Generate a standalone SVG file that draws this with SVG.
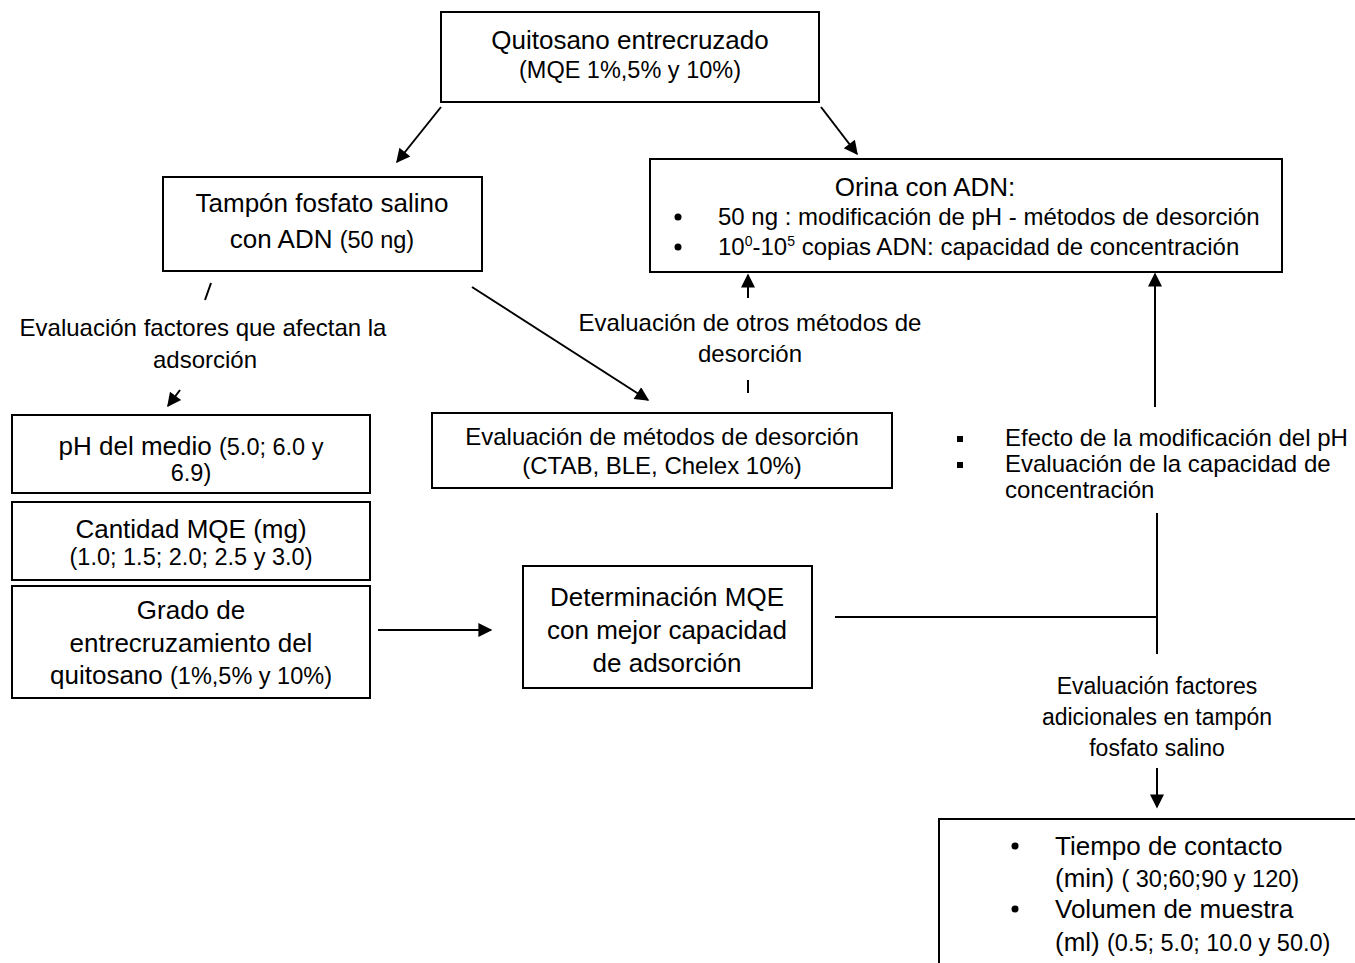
<svg xmlns="http://www.w3.org/2000/svg" width="1355" height="963" viewBox="0 0 1355 963">
<style>
text{font-family:"Liberation Sans",Arial,sans-serif;fill:#000}
.b{font-size:26px}
.s{font-size:23.5px}
.l{font-size:24px}
.a{font-size:23px}
.m{text-anchor:middle}
rect.n{fill:#fff;stroke:#000;stroke-width:2}
.c line,.c path{stroke:#000;stroke-width:2;fill:none}
</style>
<defs>
<marker id="ah2" viewBox="0 0 10 10" refX="9" refY="5" markerWidth="16" markerHeight="14" markerUnits="userSpaceOnUse" orient="auto">
<path d="M0,0 L10,5 L0,10 z" fill="#000"/>
</marker>
</defs>
<rect width="1355" height="963" fill="#fff"/>
<g class="c" id="connectors">
<line x1="441" y1="107" x2="397" y2="162" marker-end="url(#ah2)"/>
<line x1="821" y1="107" x2="857" y2="154" marker-end="url(#ah2)"/>
<line x1="211" y1="283" x2="205" y2="300"/>
<line x1="180" y1="390" x2="168" y2="406" marker-end="url(#ah2)"/>
<line x1="472" y1="287" x2="648" y2="400" marker-end="url(#ah2)"/>
<line x1="748" y1="380" x2="748" y2="393"/>
<line x1="748" y1="298" x2="748" y2="275" marker-end="url(#ah2)"/>
<line x1="378" y1="630" x2="491" y2="630" marker-end="url(#ah2)"/>
<line x1="835" y1="617" x2="1157" y2="617"/>
<line x1="1157" y1="513" x2="1157" y2="654"/>
<line x1="1155" y1="407" x2="1155" y2="274" marker-end="url(#ah2)"/>
<line x1="1157" y1="768" x2="1157" y2="807" marker-end="url(#ah2)"/>
</g>
<g id="n-quitosano">
<rect class="n" x="441" y="12" width="378" height="90"/>
<text class="b m" x="630" y="49">Quitosano entrecruzado</text>
<text class="s m" x="630" y="78">(MQE 1%,5% y 10%)</text>
</g>
<g id="n-tampon">
<rect class="n" x="163" y="177" width="319" height="94"/>
<text class="b m" x="322" y="212">Tampón fosfato salino</text>
<text class="m" x="322" y="248"><tspan class="b">con ADN </tspan><tspan class="s">(50 ng)</tspan></text>
</g>
<g id="n-orina">
<rect class="n" x="650" y="159" width="632" height="113"/>
<text class="b m" x="925" y="196">Orina con ADN:</text>
<circle cx="678" cy="217" r="3.5"/>
<text class="l" x="718" y="225">50 ng : modificación de pH - métodos de desorción</text>
<circle cx="678" cy="247" r="3.5"/>
<text class="l" x="718" y="255">10<tspan font-size="14" dy="-9">0</tspan><tspan dy="9">-10</tspan><tspan font-size="14" dy="-9">5</tspan><tspan dy="9"> copias ADN: capacidad de concentración</tspan></text>
</g>
<g id="lbl-factores">
<text class="l m" x="203" y="336">Evaluación factores que afectan la</text>
<text class="l m" x="205" y="368">adsorción</text>
</g>
<g id="lbl-otros">
<text class="l m" x="750" y="331">Evaluación de otros métodos de</text>
<text class="l m" x="750" y="362">desorción</text>
</g>
<g id="n-desorcion">
<rect class="n" x="432" y="413" width="460" height="75"/>
<text class="l m" x="662" y="445">Evaluación de métodos de desorción</text>
<text class="l m" x="662" y="474">(CTAB, BLE, Chelex 10%)</text>
</g>
<g id="n-ph">
<rect class="n" x="12" y="415" width="358" height="78"/>
<text class="m" x="191" y="455"><tspan class="b">pH del medio </tspan><tspan class="s">(5.0; 6.0 y</tspan></text>
<text class="s m" x="191" y="481">6.9)</text>
</g>
<g id="n-cantidad">
<rect class="n" x="12" y="502" width="358" height="78"/>
<text class="b m" x="191" y="538">Cantidad MQE (mg)</text>
<text class="s m" x="191" y="565">(1.0; 1.5; 2.0; 2.5 y 3.0)</text>
</g>
<g id="n-grado">
<rect class="n" x="12" y="586" width="358" height="112"/>
<text class="b m" x="191" y="619">Grado de</text>
<text class="b m" x="191" y="652">entrecruzamiento del</text>
<text class="m" x="191" y="684"><tspan class="b">quitosano </tspan><tspan class="s">(1%,5% y 10%)</tspan></text>
</g>
<g id="n-determinacion">
<rect class="n" x="523" y="566" width="289" height="122"/>
<text class="b m" x="667" y="606">Determinación MQE</text>
<text class="b m" x="667" y="639">con mejor capacidad</text>
<text class="b m" x="667" y="672">de adsorción</text>
</g>
<g id="lbl-efecto">
<rect x="957" y="436" width="6" height="6"/>
<text class="l" x="1005" y="446">Efecto de la modificación del pH</text>
<rect x="957" y="462" width="6" height="6"/>
<text class="l" x="1005" y="472">Evaluación de la capacidad de</text>
<text class="l" x="1005" y="498">concentración</text>
</g>
<g id="lbl-adicionales">
<text class="a m" x="1157" y="694">Evaluación factores</text>
<text class="a m" x="1157" y="725">adicionales en tampón</text>
<text class="a m" x="1157" y="756">fosfato salino</text>
</g>
<g id="n-tiempo">
<rect class="n" x="939" y="819" width="430" height="160"/>
<circle cx="1015" cy="846" r="3.5"/>
<text class="b" x="1055" y="855">Tiempo de contacto</text>
<text x="1055" y="887"><tspan class="b">(min) </tspan><tspan class="s">( 30;60;90 y 120)</tspan></text>
<circle cx="1015" cy="909" r="3.5"/>
<text class="b" x="1055" y="918">Volumen de muestra</text>
<text x="1055" y="951"><tspan class="b">(ml) </tspan><tspan class="s">(0.5; 5.0; 10.0 y 50.0)</tspan></text>
</g>
</svg>
